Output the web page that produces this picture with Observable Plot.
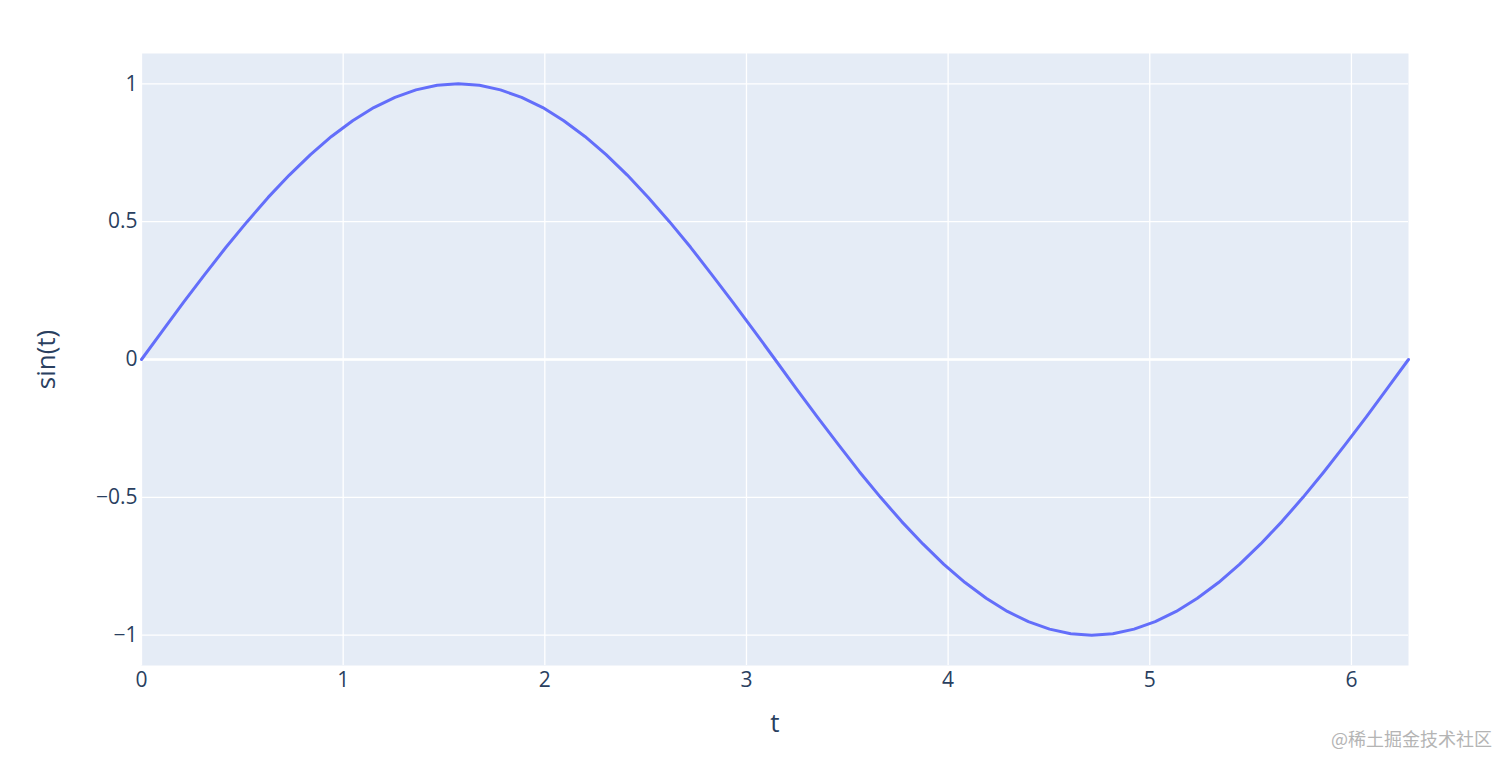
<!DOCTYPE html>
<html>
<head>
<meta charset="utf-8">
<script src="https://cdn.jsdelivr.net/npm/d3@7"></script>
<script src="https://cdn.jsdelivr.net/npm/@observablehq/plot@0.6"></script>
<style>
  html, body { margin: 0; padding: 0; background: #fff; }
  #wrap { position: relative; width: 1512px; height: 768px; }
  #wm { position: absolute; right: 20px; bottom: 17px; font-family: "Noto Sans CJK SC", sans-serif; font-size: 18px; color: #b4b4b4; }
</style>
</head>
<body>
<div id="wrap"><div id="wm">@稀土掘金技术社区</div></div>
<script>
const tValues = [0, 0.105, 0.209, 0.314, 0.419, 0.524, 0.628, 0.733, 0.838, 0.942, 1.047, 1.152, 1.257, 1.361, 1.466, 1.571, 1.676, 1.780, 1.885, 1.990, 2.094, 2.199, 2.304, 2.409, 2.513, 2.618, 2.723, 2.827, 2.932, 3.037, 3.142, 3.246, 3.351, 3.456, 3.560, 3.665, 3.770, 3.875, 3.979, 4.084, 4.189, 4.294, 4.398, 4.503, 4.608, 4.712, 4.817, 4.922, 5.027, 5.131, 5.236, 5.341, 5.445, 5.550, 5.655, 5.760, 5.864, 5.969, 6.074, 6.178, 6.283];
const sinValues = [0, 0.105, 0.208, 0.309, 0.407, 0.5, 0.588, 0.669, 0.743, 0.809, 0.866, 0.914, 0.951, 0.978, 0.995, 1, 0.995, 0.978, 0.951, 0.914, 0.866, 0.809, 0.743, 0.669, 0.588, 0.5, 0.407, 0.309, 0.208, 0.105, 0, -0.105, -0.208, -0.309, -0.407, -0.5, -0.588, -0.669, -0.743, -0.809, -0.866, -0.914, -0.951, -0.978, -0.995, -1, -0.995, -0.978, -0.951, -0.914, -0.866, -0.809, -0.743, -0.669, -0.588, -0.5, -0.407, -0.309, -0.208, -0.105, 0];
const xTicks = [0, 1, 2, 3, 4, 5, 6];
const yTicks = [-1, -0.5, 0, 0.5, 1];
const xTitle = "t";
const yTitle = "sin(t)";

const data = tValues.map((t, i) => ({t, y: sinValues[i]}));
const fmt = d => d < 0 ? "\u2212" + (-d) : String(d);
const textColor = "#2a3f5f";

const chart = Plot.plot({
  width: 1512,
  height: 768,
  marginLeft: 141,
  marginRight: 104,
  marginTop: 53,
  marginBottom: 103,
  style: { fontFamily: "'Open Sans', sans-serif", fontSize: "21px", color: textColor, background: "transparent" },
  x: { domain: [0, 6.283] },
  y: { domain: [-1.11, 1.11] },
  marks: [
    Plot.frame({ fill: "#E5ECF6", stroke: null }),
    Plot.gridX(xTicks, { stroke: "#fff", strokeOpacity: 1, strokeWidth: 1.3 }),
    Plot.gridY(yTicks, { stroke: "#fff", strokeOpacity: 1, strokeWidth: 1.3 }),
    Plot.ruleY([0], { stroke: "#fff", strokeWidth: 2.6 }),
    Plot.axisX(xTicks, { tickSize: 0, tickPadding: 7, tickFormat: fmt, label: null, fill: textColor, fontSize: 21 }),
    Plot.axisY(yTicks, { tickSize: 0, tickPadding: 4, tickFormat: fmt, label: null, fill: textColor, fontSize: 21 }),
    Plot.line(data, { x: "t", y: "y", stroke: "#636efa", strokeWidth: 3 }),
    Plot.text([xTitle], { frameAnchor: "bottom", dy: 58, text: d => d, fontSize: 26, fill: textColor, lineAnchor: "middle", textAnchor: "middle" }),
    Plot.text([yTitle], { frameAnchor: "left", dx: -95, text: d => d, fontSize: 26, fill: textColor, rotate: -90, lineAnchor: "middle", textAnchor: "middle" })
  ]
});
document.getElementById("wrap").prepend(chart);
</script>
</body>
</html>
